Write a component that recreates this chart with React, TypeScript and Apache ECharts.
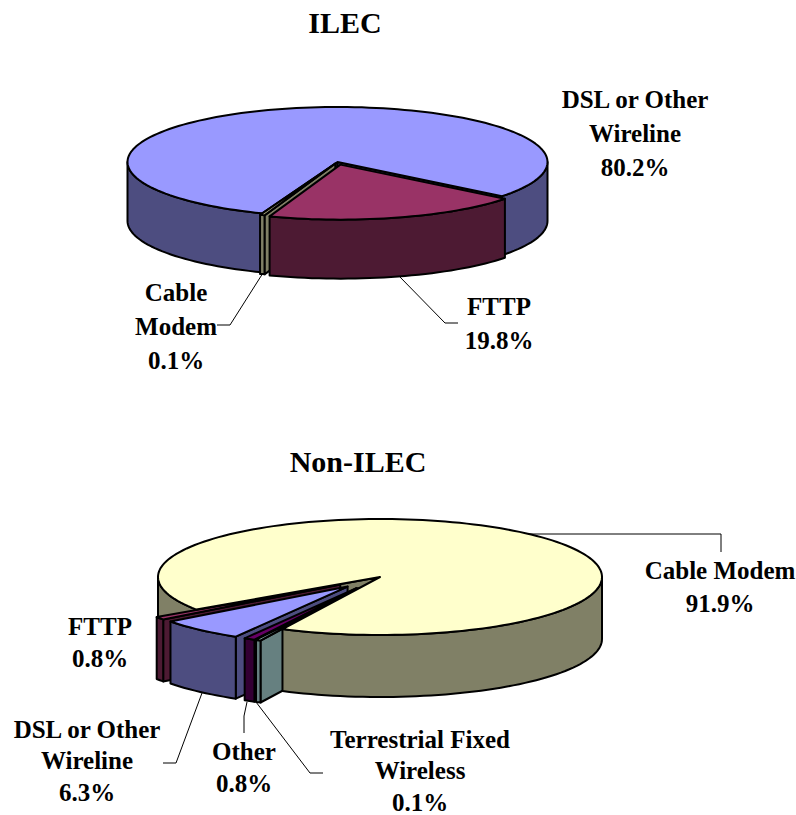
import React, { useEffect, useRef } from "react";
import * as echarts from "echarts";

const ILEC_CATEGORIES = ["DSL or Other\nWireline", "FTTP", "Cable\nModem"];
const ILEC_VALUES = [80.2, 19.8, 0.1];
const ILEC_TOPS = ["#9999ff", "#993366", "#b8b88c"];
const NON_CATEGORIES = ["Cable Modem", "Terrestrial Fixed\nWireless", "Other", "DSL or Other\nWireline", "FTTP"];
const NON_VALUES = [91.9, 0.1, 0.8, 6.3, 0.8];
const NON_TOPS = ["#ffffcc", "#ccffff", "#660066", "#9999ff", "#993366"];

const darken: Record<string, string> = {
  "#9999ff": "#4d4d80",
  "#993366": "#4d1a33",
  "#b8b88c": "#808066",
  "#ffffcc": "#808066",
  "#ccffff": "#668080",
  "#660066": "#330033",
};

const MIN_SWEEP = 1.3;
const rad = Math.PI / 180;

type Pie = {
  values: number[];
  tops: string[];
  cx: number;
  cy: number;
  rx: number;
  ry: number;
  depth: number;
  mainStart: number;
  explode: number[];
  mainOnTop: boolean;
};

const pt = (p: Pie, c: number[], a: number, dz = 0) => [
  c[0] + p.rx * Math.cos(a * rad),
  c[1] + p.ry * Math.sin(a * rad) + dz,
];

function arc(p: Pie, c: number[], a0: number, a1: number, dz = 0) {
  const n = Math.max(2, Math.ceil(Math.abs(a1 - a0) / 2));
  const out: number[][] = [];
  for (let i = 0; i <= n; i++) out.push(pt(p, c, a0 + ((a1 - a0) * i) / n, dz));
  return out;
}

function buildPie(p: Pie) {
  const others = p.values.slice(1).map((v) => Math.max(v * 3.6, MIN_SWEEP));
  const mainSweep = 360 - others.reduce((s, v) => s + v, 0);
  const sweeps = [mainSweep, ...others];
  const style = (fill: string) => ({ fill, stroke: "#000", lineWidth: 2, lineJoin: "round" });
  const poly = (points: number[][], fill: string) => ({ type: "polygon", shape: { points }, style: style(fill) });

  let a = p.mainStart;
  const slices = sweeps.map((sw, i) => {
    const a0 = a;
    const a1 = a + sw;
    a = a1;
    const mid = (a0 + a1) / 2;
    const c = [p.cx + p.explode[i] * p.rx * Math.cos(mid * rad), p.cy + p.explode[i] * p.ry * Math.sin(mid * rad)];
    const top = p.tops[i];
    const dark = darken[top];
    const faces: any[] = [];
    const face = (ang: number) => {
      const r = pt(p, c, ang);
      const rb = pt(p, c, ang, p.depth);
      return poly([c, r, rb, [c[0], c[1] + p.depth]], dark);
    };
    if (Math.cos(a0 * rad) < 0) faces.push(face(a0));
    if (Math.cos(a1 * rad) > 0) faces.push(face(a1));
    const walls: any[] = [];
    for (let k = -1; k < 3; k++) {
      const lo = Math.max(a0, 360 * k);
      const hi = Math.min(a1, 360 * k + 180);
      if (hi > lo) {
        walls.push(poly([...arc(p, c, lo, hi), ...arc(p, c, hi, lo, p.depth)], dark));
      }
    }
    const topFace = poly([c, ...arc(p, c, a0, a1)], top);
    return { faces, walls, topFace };
  });

  const children: any[] = [];
  const main = slices[0];
  if (p.mainOnTop) {
    children.push(...main.faces, main.walls[0]);
    slices.slice(1).reverse().forEach((s) => children.push(...s.faces, ...s.walls, s.topFace));
    children.push(...main.walls.slice(1), main.topFace);
  } else {
    children.push(...main.faces, ...main.walls, main.topFace);
    [slices[2], slices[1]].forEach((s) => children.push(...s.faces, ...s.walls, s.topFace));
  }
  return { type: "group", children };
}

const ILEC_PIE: Pie = {
  values: ILEC_VALUES, tops: ILEC_TOPS, cx: 337.5, cy: 162, rx: 210, ry: 55, depth: 59,
  mainStart: 111, explode: [0, 0.05, 0.03], mainOnTop: false,
};
const NON_PIE: Pie = {
  values: NON_VALUES, tops: NON_TOPS, cx: 380, cy: 577, rx: 222, ry: 58, depth: 62,
  mainStart: 145.8, explode: [0, 0.22, 0.22, 0.22, 0.22], mainOnTop: true,
};

const LABELS = [
  { name: ILEC_CATEGORIES[0], value: ILEC_VALUES[0], x: 635, y: 99, h: 34 },
  { name: ILEC_CATEGORIES[1], value: ILEC_VALUES[1], x: 499, y: 306, h: 34 },
  { name: ILEC_CATEGORIES[2], value: ILEC_VALUES[2], x: 176, y: 292, h: 34 },
  { name: NON_CATEGORIES[0], value: NON_VALUES[0], x: 720, y: 570, h: 33 },
  { name: NON_CATEGORIES[1], value: NON_VALUES[1], x: 420, y: 739, h: 31.5 },
  { name: NON_CATEGORIES[2], value: NON_VALUES[2], x: 244, y: 751, h: 32 },
  { name: NON_CATEGORIES[3], value: NON_VALUES[3], x: 87, y: 729, h: 31.5 },
  { name: NON_CATEGORIES[4], value: NON_VALUES[4], x: 100, y: 626, h: 32 },
];

const LEADERS = [
  [[399, 276], [445, 323], [458, 323]],
  [[263, 273], [230, 325], [217, 325]],
  [[528, 534], [721, 534], [721, 552]],
  [[202, 693], [176, 763], [163, 763]],
  [[247, 702], [244, 716], [244, 733]],
  [[256, 702], [310, 773], [323, 773]],
];

const FONT = "'Liberation Serif', 'Times New Roman', serif";

export default function App() {
  const ref = useRef<HTMLDivElement>(null);
  useEffect(() => {
    const chart = echarts.init(ref.current!, null, { renderer: "svg" });
    chart.setOption({
      animation: false,
      backgroundColor: "#fff",
      title: [
        { text: "ILEC", left: 340, top: 2, textAlign: "center", textStyle: { fontFamily: FONT, fontWeight: "bold", fontSize: 30, color: "#000" } },
        { text: "Non-ILEC", left: 353, top: 441, textAlign: "center", textStyle: { fontFamily: FONT, fontWeight: "bold", fontSize: 30, color: "#000" } },
      ],
      series: [ILEC_PIE, NON_PIE].map((p) => ({
        type: "custom",
        coordinateSystem: "none",
        silent: true,
        data: [p.values],
        renderItem: () => buildPie(p),
      })),
      graphic: [
        ...LEADERS.map((points) => ({
          type: "polyline",
          shape: { points },
          style: { stroke: "#000", lineWidth: 1, fill: "none" },
          z: 10,
        })),
        ...LABELS.flatMap((l) =>
          `${l.name}\n${l.value.toFixed(1)}%`.split("\n").map((line, i) => ({
            type: "text",
            x: l.x,
            y: l.y + i * l.h,
            z: 11,
            style: {
              text: line,
              fontFamily: FONT,
              fontWeight: "bold",
              fontSize: 25,
              lineHeight: 22,
              fill: "#000",
              align: "center",
              verticalAlign: "middle",
            },
          }))
        ),
      ],
    });
    return () => chart.dispose();
  }, []);
  return <div ref={ref} style={{ position: "absolute", left: 0, top: 0, width: 796, height: 815 }} />;
}
